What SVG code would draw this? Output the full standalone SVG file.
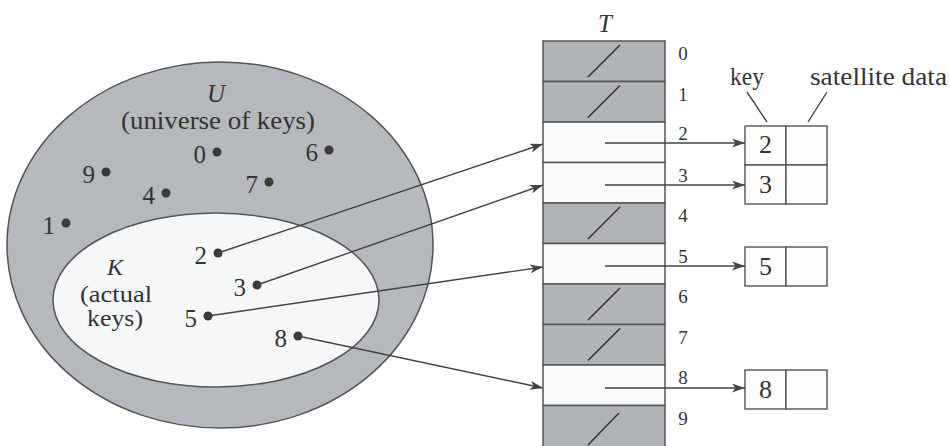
<svg xmlns="http://www.w3.org/2000/svg" width="950" height="446" viewBox="0 0 950 446">
<style>
text{font-family:'Liberation Serif','Times New Roman',Times,Tinos,serif;fill:#333}
.d{font-size:25px;text-anchor:end}
.c{text-anchor:middle}
.i{font-style:italic}
.dot{fill:#3a3a3a}
.ln{stroke:#444;stroke-width:1.4;fill:none}
.gray{fill:#b0b4b8;stroke:#555;stroke-width:1.5}
.white{fill:#fbfbfb;stroke:#555;stroke-width:1.5}
.sl{stroke:#333;stroke-width:1.6}
.idx{font-size:19px;text-anchor:middle}
.box{fill:#fdfdfd;stroke:#555;stroke-width:1.4}
</style>
<defs>
<marker id="ah" markerUnits="userSpaceOnUse" markerWidth="14" markerHeight="10" refX="13" refY="4.5" orient="auto">
<path d="M0,0 L13,4.5 L0,9 L3.5,4.5 z" fill="#444"/>
</marker>
</defs>
<rect width="950" height="446" fill="#fff"/>

<g id="universe">
<ellipse cx="220" cy="245" rx="213" ry="183" fill="#b5b8bc" stroke="#555" stroke-width="1.5"/>
<text class="i c" x="216" y="102" font-size="25">U</text>
<text class="c" x="218" y="129" font-size="25" textLength="194" lengthAdjust="spacingAndGlyphs">(universe of keys)</text>
</g>

<g id="actual-keys">
<ellipse cx="216" cy="300" rx="163" ry="87" fill="#f6f7f9" stroke="#555" stroke-width="1.5"/>
<text class="i c" x="115" y="275" font-size="24">K</text>
<text class="c" x="116" y="302" font-size="24" textLength="72" lengthAdjust="spacingAndGlyphs">(actual</text>
<text class="c" x="115" y="326" font-size="24" textLength="56" lengthAdjust="spacingAndGlyphs">keys)</text>
</g>

<g id="key-0"><circle class="dot" cx="217" cy="152" r="4.5"/><text class="d" x="206" y="163">0</text></g>
<g id="key-6"><circle class="dot" cx="329" cy="150" r="4.5"/><text class="d" x="318" y="161">6</text></g>
<g id="key-9"><circle class="dot" cx="106" cy="172" r="4.5"/><text class="d" x="95" y="183">9</text></g>
<g id="key-4"><circle class="dot" cx="166" cy="193" r="4.5"/><text class="d" x="155" y="204">4</text></g>
<g id="key-7"><circle class="dot" cx="269" cy="182" r="4.5"/><text class="d" x="258" y="193">7</text></g>
<g id="key-1"><circle class="dot" cx="66" cy="223" r="4.5"/><text class="d" x="55" y="234">1</text></g>
<g id="key-2"><circle class="dot" cx="218" cy="253" r="4.5"/><text class="d" x="207" y="264">2</text></g>
<g id="key-3"><circle class="dot" cx="257" cy="285" r="4.5"/><text class="d" x="246" y="296">3</text></g>
<g id="key-5"><circle class="dot" cx="208" cy="316" r="4.5"/><text class="d" x="197" y="327">5</text></g>
<g id="key-8"><circle class="dot" cx="298" cy="336" r="4.5"/><text class="d" x="287" y="347">8</text></g>

<g id="table">
<text class="i c" x="605" y="32" font-size="25">T</text>
<rect class="gray" x="543" y="41" width="122" height="40.5"/>
<rect class="gray" x="543" y="81.5" width="122" height="40.5"/>
<rect class="white" x="543" y="122" width="122" height="40.5"/>
<rect class="white" x="543" y="162.5" width="122" height="40.5"/>
<rect class="gray" x="543" y="203" width="122" height="40.5"/>
<rect class="white" x="543" y="243.5" width="122" height="40.5"/>
<rect class="gray" x="543" y="284" width="122" height="40.5"/>
<rect class="gray" x="543" y="324.5" width="122" height="40.5"/>
<rect class="white" x="543" y="365" width="122" height="40.5"/>
<rect class="gray" x="543" y="405.5" width="122" height="50"/>
<line class="sl" x1="588" y1="77" x2="620" y2="45"/>
<line class="sl" x1="588" y1="117.5" x2="620" y2="85.5"/>
<line class="sl" x1="588" y1="239" x2="620" y2="207"/>
<line class="sl" x1="588" y1="320" x2="620" y2="288"/>
<line class="sl" x1="588" y1="360.5" x2="620" y2="328.5"/>
<line class="sl" x1="588" y1="445" x2="619" y2="413"/>
<text class="idx" x="683" y="60">0</text>
<text class="idx" x="683" y="100.5">1</text>
<text class="idx" x="683" y="140">2</text>
<text class="idx" x="683" y="181.5">3</text>
<text class="idx" x="683" y="222">4</text>
<text class="idx" x="683" y="262.5">5</text>
<text class="idx" x="683" y="303">6</text>
<text class="idx" x="683" y="343.5">7</text>
<text class="idx" x="683" y="384">8</text>
<text class="idx" x="683" y="424.5">9</text>
</g>

<g id="labels">
<text class="c" x="747" y="85" font-size="25" textLength="34" lengthAdjust="spacingAndGlyphs">key</text>
<text x="810" y="85" font-size="25" textLength="137" lengthAdjust="spacingAndGlyphs">satellite data</text>
<line class="ln" x1="747" y1="92" x2="767" y2="122"/>
<line class="ln" x1="827" y1="92" x2="808" y2="122"/>
</g>

<g id="elem-2"><rect class="box" x="745" y="126" width="41" height="39"/><rect class="box" x="786" y="126" width="41" height="39"/><text class="c" x="765.5" y="153" font-size="26">2</text></g>
<g id="elem-3"><rect class="box" x="745" y="165" width="41" height="39"/><rect class="box" x="786" y="165" width="41" height="39"/><text class="c" x="765.5" y="193" font-size="26">3</text></g>
<g id="elem-5"><rect class="box" x="745" y="247" width="41" height="39"/><rect class="box" x="786" y="247" width="41" height="39"/><text class="c" x="765.5" y="275" font-size="26">5</text></g>
<g id="elem-8"><rect class="box" x="745" y="370" width="41" height="39"/><rect class="box" x="786" y="370" width="41" height="39"/><text class="c" x="765.5" y="398" font-size="26">8</text></g>

<g id="connectors">
<line class="ln" x1="218" y1="253" x2="543" y2="144" marker-end="url(#ah)"/>
<line class="ln" x1="257" y1="285" x2="543" y2="185" marker-end="url(#ah)"/>
<line class="ln" x1="208" y1="316" x2="543" y2="267" marker-end="url(#ah)"/>
<line class="ln" x1="298" y1="336" x2="543" y2="388" marker-end="url(#ah)"/>
<line class="ln" x1="605" y1="143" x2="745" y2="143" marker-end="url(#ah)"/>
<line class="ln" x1="605" y1="185" x2="745" y2="185" marker-end="url(#ah)"/>
<line class="ln" x1="605" y1="266" x2="745" y2="266" marker-end="url(#ah)"/>
<line class="ln" x1="605" y1="388" x2="745" y2="388" marker-end="url(#ah)"/>
</g>
</svg>
